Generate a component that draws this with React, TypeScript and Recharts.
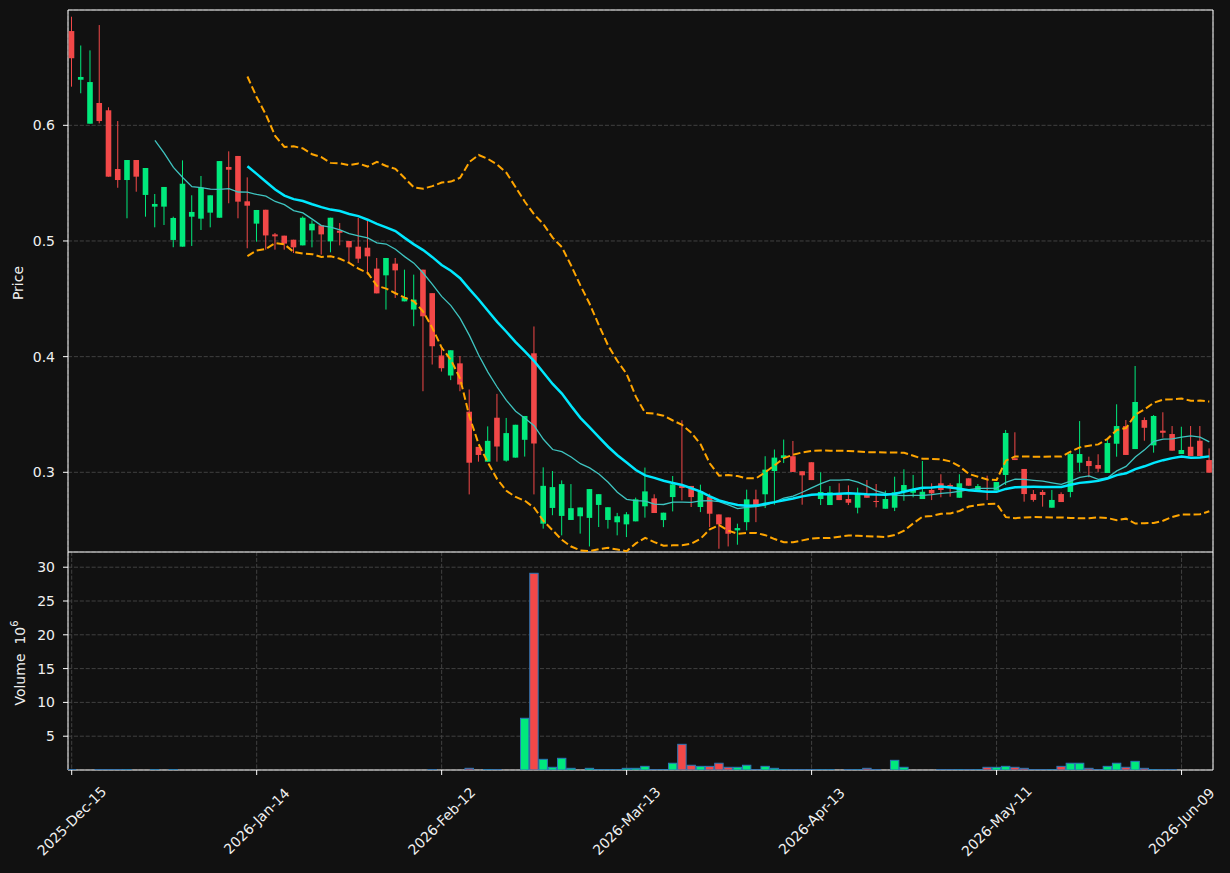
import React from 'react';
import { ComposedChart, Bar, Line, XAxis, YAxis, CartesianGrid, ReferenceArea } from 'recharts';

// ---------- data ----------
const tickIndex = [0, 20, 40, 60, 80, 100, 120];
const tickLabels = ['2025-Dec-15', '2026-Jan-14', '2026-Feb-12', '2026-Mar-13', '2026-Apr-13', '2026-May-11', '2026-Jun-09'];

const opens = [
  0.6815, 0.6394, 0.6014, 0.6193, 0.613, 0.5622, 0.5527, 0.570, 0.5398, 0.5297,
  0.5297, 0.5009, 0.4951, 0.521, 0.5193, 0.5245, 0.5201, 0.564, 0.5735, 0.5343,
  0.515, 0.527, 0.5057, 0.5046, 0.5011, 0.4962, 0.5092, 0.5135, 0.4997, 0.5089,
  0.5, 0.4951, 0.4942, 0.4761, 0.4703, 0.4804, 0.4478, 0.4407, 0.4752, 0.4549,
  0.401, 0.3837, 0.3942, 0.3524, 0.322, 0.3092, 0.3472, 0.3101, 0.3127, 0.3281,
  0.4029, 0.2556, 0.2692, 0.2623, 0.2588, 0.262, 0.2606, 0.2718, 0.2588, 0.2568,
  0.255, 0.2576, 0.2706, 0.2775, 0.2587, 0.2786, 0.2885, 0.2882, 0.27, 0.2786,
  0.2636, 0.261, 0.2498, 0.2569, 0.2766, 0.281, 0.3011, 0.3124, 0.3139, 0.3009,
  0.3087, 0.2769, 0.2717, 0.2812, 0.2769, 0.2694, 0.2812, 0.2752, 0.2685, 0.2694,
  0.2832, 0.2823, 0.2769, 0.2847, 0.2905, 0.289, 0.278, 0.2948, 0.2847, 0.2838,
  0.2844, 0.2977, 0.3121, 0.3029, 0.2812, 0.283, 0.2694, 0.2812, 0.283, 0.3083,
  0.3098, 0.3063, 0.2994, 0.3247, 0.34, 0.3201, 0.3452, 0.3233, 0.336, 0.3331,
  0.3158, 0.3221, 0.3273, 0.3106,
];
const highs = [
  0.6939, 0.669, 0.6648, 0.6867, 0.6156, 0.6037, 0.570, 0.570, 0.5631, 0.5406,
  0.5467, 0.521, 0.5697, 0.5395, 0.5562, 0.5395, 0.5691, 0.5775, 0.5735, 0.555,
  0.5268, 0.527, 0.5069, 0.5046, 0.5011, 0.5212, 0.5178, 0.5135, 0.5201, 0.5155,
  0.5, 0.5199, 0.5184, 0.4853, 0.4853, 0.4853, 0.4752, 0.4709, 0.4752, 0.4549,
  0.409, 0.4055, 0.4005, 0.3716, 0.322, 0.3397, 0.3678, 0.347, 0.3411, 0.3487,
  0.4261, 0.3043, 0.3011, 0.293, 0.2898, 0.2696, 0.2855, 0.2811, 0.2698, 0.2649,
  0.2656, 0.2781, 0.3041, 0.281, 0.2651, 0.2968, 0.345, 0.2882, 0.2893, 0.2815,
  0.2636, 0.261, 0.2556, 0.285, 0.285, 0.3139, 0.3197, 0.3283, 0.3271, 0.3009,
  0.3087, 0.3, 0.2881, 0.2905, 0.2887, 0.2867, 0.2933, 0.2899, 0.2841, 0.2962,
  0.3026, 0.2977, 0.3098, 0.2905, 0.2983, 0.2905, 0.2983, 0.2948, 0.2899, 0.2971,
  0.2916, 0.3366, 0.3346, 0.3029, 0.2847, 0.2847, 0.2847, 0.2827, 0.3173, 0.3443,
  0.3135, 0.3156, 0.329, 0.3588, 0.3452, 0.3919, 0.3475, 0.3495, 0.3519, 0.34,
  0.3394, 0.34, 0.34, 0.3207,
];
const lows = [
  0.6334, 0.6277, 0.6014, 0.6017, 0.5556, 0.546, 0.5196, 0.5426, 0.521, 0.5118,
  0.5138, 0.4946, 0.4951, 0.4957, 0.5095, 0.5118, 0.5201, 0.5326, 0.5196, 0.4937,
  0.4994, 0.4925, 0.4925, 0.4925, 0.4896, 0.4962, 0.4945, 0.4882, 0.4902, 0.4962,
  0.481, 0.481, 0.4709, 0.4547, 0.4407, 0.4508, 0.4478, 0.4263, 0.3701, 0.3932,
  0.3871, 0.3797, 0.3701, 0.2809, 0.3092, 0.3092, 0.3092, 0.3092, 0.3127, 0.3136,
  0.2809, 0.2513, 0.2629, 0.2455, 0.2588, 0.247, 0.2359, 0.2527, 0.2513, 0.2455,
  0.244, 0.2576, 0.2608, 0.2648, 0.2526, 0.2662, 0.2758, 0.27, 0.2656, 0.2526,
  0.2339, 0.2359, 0.2374, 0.2498, 0.2569, 0.2691, 0.272, 0.308, 0.3003, 0.272,
  0.2933, 0.2717, 0.2717, 0.276, 0.2717, 0.2645, 0.278, 0.2697, 0.2685, 0.2665,
  0.2754, 0.2784, 0.2769, 0.276, 0.2784, 0.2789, 0.278, 0.2884, 0.2847, 0.276,
  0.2844, 0.289, 0.3106, 0.2746, 0.2746, 0.2703, 0.2694, 0.2743, 0.2784, 0.3005,
  0.2957, 0.3003, 0.2994, 0.3135, 0.315, 0.3201, 0.3273, 0.317, 0.3299, 0.3187,
  0.3158, 0.3141, 0.3141, 0.2997,
];
const closes = [
  0.658, 0.6418, 0.6374, 0.6037, 0.5556, 0.5527, 0.570, 0.5556, 0.5631, 0.532,
  0.5467, 0.5199, 0.5495, 0.5251, 0.5461, 0.5395, 0.5691, 0.5616, 0.534, 0.5305,
  0.5268, 0.5048, 0.504, 0.4977, 0.4945, 0.5201, 0.5149, 0.5057, 0.5201, 0.5071,
  0.4945, 0.4847, 0.4867, 0.4547, 0.4853, 0.4746, 0.4513, 0.4493, 0.4349, 0.409,
  0.39, 0.4055, 0.3759, 0.3083, 0.315, 0.3272, 0.3223, 0.3339, 0.3411, 0.3487,
  0.3249, 0.2883, 0.2872, 0.2898, 0.269, 0.2696, 0.2855, 0.2811, 0.2698, 0.262,
  0.2637, 0.2766, 0.2835, 0.2648, 0.2651, 0.2896, 0.2864, 0.2786, 0.2835, 0.2642,
  0.255, 0.2469, 0.2518, 0.2766, 0.27, 0.3023, 0.3127, 0.3147, 0.3003, 0.2974,
  0.2933, 0.283, 0.2827, 0.276, 0.2737, 0.2812, 0.278, 0.2746, 0.2769, 0.2827,
  0.289, 0.2853, 0.2832, 0.2818, 0.2847, 0.2875, 0.2905, 0.2884, 0.2881, 0.283,
  0.2916, 0.334, 0.3106, 0.2812, 0.2761, 0.2804, 0.2761, 0.2743, 0.3158, 0.3158,
  0.3054, 0.3031, 0.3253, 0.34, 0.315, 0.3608, 0.3385, 0.3487, 0.3342, 0.3187,
  0.3193, 0.3141, 0.3141, 0.2997,
];
// volume in millions
const volumes = [
  0.05, 0, 0, 0.05, 0.05, 0.05, 0.05, 0, 0, 0.05,
  0, 0.05, 0, 0, 0, 0, 0, 0, 0, 0,
  0, 0, 0, 0, 0, 0, 0, 0, 0, 0,
  0, 0, 0, 0, 0, 0, 0, 0, 0, 0.05,
  0, 0, 0, 0.25, 0, 0.05, 0.05, 0, 0, 7.65,
  29.1, 1.58, 0.4, 1.73, 0.25, 0, 0.25, 0.05, 0.05, 0.05,
  0.25, 0.25, 0.54, 0.05, 0.05, 1.0, 3.8, 0.7, 0.54, 0.54,
  1.0, 0.4, 0.4, 0.7, 0.05, 0.54, 0.25, 0.05, 0.05, 0.05,
  0.05, 0.05, 0.05, 0, 0.05, 0.05, 0.25, 0.05, 0, 1.43,
  0.4, 0, 0, 0, 0.05, 0.05, 0.05, 0.05, 0.05, 0.4,
  0.4, 0.54, 0.4, 0.25, 0.05, 0.05, 0.05, 0.54, 1.0, 1.0,
  0.25, 0.05, 0.54, 1.0, 0.4, 1.28, 0.25, 0.05, 0.05, 0.05,
  0, 0, 0, 0,
];

const priceTicks = [0.3, 0.4, 0.5, 0.6];
const volumeTicks = [5, 10, 15, 20, 25, 30];

// ---------- styles ----------
const BG = '#111111';
const GREEN = '#00e97c';
const RED = '#f24848';
const EDGE = '#2a78b8';
const MA10_COLOR = '#3fc4c0';
const MA20_COLOR = '#00e8ff';
const BB_COLOR = '#ffa500';
const GRID = '#404040';
const TEXT = '#f0f0f0';
const FONT = 'DejaVu Sans, Verdana, sans-serif';

// rolling indicators derived from the close series
const rollingMean = (n: number, i: number) => {
  if (i < n - 1) return null;
  let s = 0;
  for (let k = i - n + 1; k <= i; k++) s += closes[k];
  return s / n;
};
const rollingStd = (n: number, i: number) => {
  if (i < n - 1) return null;
  const m = rollingMean(n, i) as number;
  let s = 0;
  for (let k = i - n + 1; k <= i; k++) s += (closes[k] - m) * (closes[k] - m);
  return Math.sqrt(s / n);
};

const data = opens.map((o, i) => {
  const ma20 = rollingMean(20, i);
  const sd = rollingStd(20, i);
  return {
    i,
    open: o,
    high: highs[i],
    low: lows[i],
    close: closes[i],
    range: [lows[i], highs[i]],
    vol: volumes[i],
    ma10: rollingMean(10, i),
    ma20,
    bbUp: ma20 !== null && sd !== null ? ma20 + 2 * sd : null,
    bbLo: ma20 !== null && sd !== null ? ma20 - 2 * sd : null,
  };
});

// ---------- shapes ----------
const Candle = (props: any) => {
  const { x, width, payload } = props;
  let { y, height } = props;
  if (!payload || x == null || y == null) return null;
  if (height < 0) { y = y + height; height = -height; }
  const { open, close, high, low } = payload;
  const cx = x + width / 2;
  const span = high - low;
  const py = (v: number) => (span > 0 ? y + ((high - v) / span) * height : y);
  const color = close >= open ? GREEN : RED;
  const top = py(Math.max(open, close));
  const bot = py(Math.min(open, close));
  const bw = 5.6;
  return (
    <g>
      <line x1={cx} x2={cx} y1={y} y2={y + height} stroke={color} strokeWidth={1} />
      <rect x={cx - bw / 2} y={top} width={bw} height={Math.max(bot - top, 1)} fill={color} />
    </g>
  );
};

const VolBar = (props: any) => {
  const { x, width, payload } = props;
  let { y, height } = props;
  if (!payload || !(payload.vol > 0) || x == null) return null;
  if (height < 0) { y = y + height; height = -height; }
  const cx = x + width / 2;
  const bw = 8.4;
  const color = payload.close >= payload.open ? GREEN : RED;
  return <rect x={cx - bw / 2} y={y} width={bw} height={Math.max(height, 0.2)} fill={color} stroke={EDGE} strokeWidth={1} />;
};

const XTick = (props: any) => {
  const { x, y, payload } = props;
  const k = tickIndex.indexOf(payload.value);
  const label = k >= 0 ? tickLabels[k] : '';
  const cy = y + 44;
  return (
    <text x={x} y={cy} transform={`rotate(-45 ${x} ${cy})`} textAnchor="middle" dominantBaseline="central"
      fill={TEXT} fontSize={14} fontFamily={FONT}>{label}</text>
  );
};

const X_DOMAIN: [number, number] = [-0.4, 123.4];
const P_DOMAIN: [number, number] = [0.2311, 0.6997];
const V_DOMAIN: [number, number] = [0, 32.25];

export default function App() {
  return (
    <div style={{ position: 'absolute', left: 0, top: 0, width: 1230, height: 873, background: BG, overflow: 'hidden' }}>
      <div style={{ position: 'absolute', left: 0, top: 0 }}>
        <ComposedChart width={1230} height={552} data={data} margin={{ top: 10, right: 17, bottom: 0, left: 8 }}>
          <CartesianGrid stroke={GRID} strokeDasharray="4.1 1.8" strokeWidth={1} />
          <XAxis dataKey="i" type="number" domain={X_DOMAIN} ticks={tickIndex} allowDataOverflow
            height={0} tick={false} tickLine={false} axisLine={false} />
          <YAxis type="number" domain={P_DOMAIN} ticks={priceTicks} allowDataOverflow width={60}
            tickFormatter={(v: number) => v.toFixed(1)} tickSize={5} tickMargin={8}
            tick={{ fill: TEXT, fontSize: 14, fontFamily: FONT }} tickLine={{ stroke: '#ffffff' }} axisLine={false}
            label={{
              content: () => (
                <text x={18} y={283} transform="rotate(-90 18 283)" textAnchor="middle" dominantBaseline="central"
                  fill={TEXT} fontSize={14} fontFamily={FONT}>Price</text>
              ),
            }} />
          <Bar dataKey="range" shape={Candle} isAnimationActive={false} />
          <Line dataKey="ma10" stroke={MA10_COLOR} strokeWidth={1.3} dot={false} activeDot={false} isAnimationActive={false} />
          <Line dataKey="ma20" stroke={MA20_COLOR} strokeWidth={2.5} dot={false} activeDot={false} isAnimationActive={false} />
          <Line dataKey="bbUp" stroke={BB_COLOR} strokeWidth={2} strokeDasharray="7.5 3.3" dot={false} activeDot={false} isAnimationActive={false} />
          <Line dataKey="bbLo" stroke={BB_COLOR} strokeWidth={2} strokeDasharray="7.5 3.3" dot={false} activeDot={false} isAnimationActive={false} />
          <ReferenceArea x1={X_DOMAIN[0]} x2={X_DOMAIN[1]} y1={P_DOMAIN[0]} y2={P_DOMAIN[1]} fill="none" stroke="#ffffff" strokeWidth={1} ifOverflow="visible" />
        </ComposedChart>
      </div>
      <div style={{ position: 'absolute', left: 0, top: 552 }}>
        <ComposedChart width={1230} height={321} data={data} margin={{ top: 0, right: 17, bottom: 0, left: 8 }}>
          <CartesianGrid stroke={GRID} strokeDasharray="4.1 1.8" strokeWidth={1} />
          <XAxis dataKey="i" type="number" domain={X_DOMAIN} ticks={tickIndex} allowDataOverflow
            height={103} tick={<XTick />} tickSize={5} tickLine={{ stroke: '#ffffff' }} axisLine={false} interval={0} />
          <YAxis type="number" domain={V_DOMAIN} ticks={volumeTicks} allowDataOverflow width={60}
            tickSize={5} tickMargin={8}
            tick={{ fill: TEXT, fontSize: 14, fontFamily: FONT }} tickLine={{ stroke: '#ffffff' }} axisLine={false}
            label={{
              content: () => (
                <text x={20} y={111} transform="rotate(-90 20 111)" textAnchor="middle" dominantBaseline="central"
                  fill={TEXT} fontSize={14} fontFamily={FONT}>
                  {'Volume\u00A0\u00A010'}<tspan dy={-6} fontSize={10}>6</tspan>
                </text>
              ),
            }} />
          <Bar dataKey="vol" shape={VolBar} isAnimationActive={false} />
          <ReferenceArea x1={X_DOMAIN[0]} x2={X_DOMAIN[1]} y1={V_DOMAIN[0]} y2={V_DOMAIN[1]} fill="none" stroke="#ffffff" strokeWidth={1} ifOverflow="visible" />
        </ComposedChart>
      </div>
    </div>
  );
}
